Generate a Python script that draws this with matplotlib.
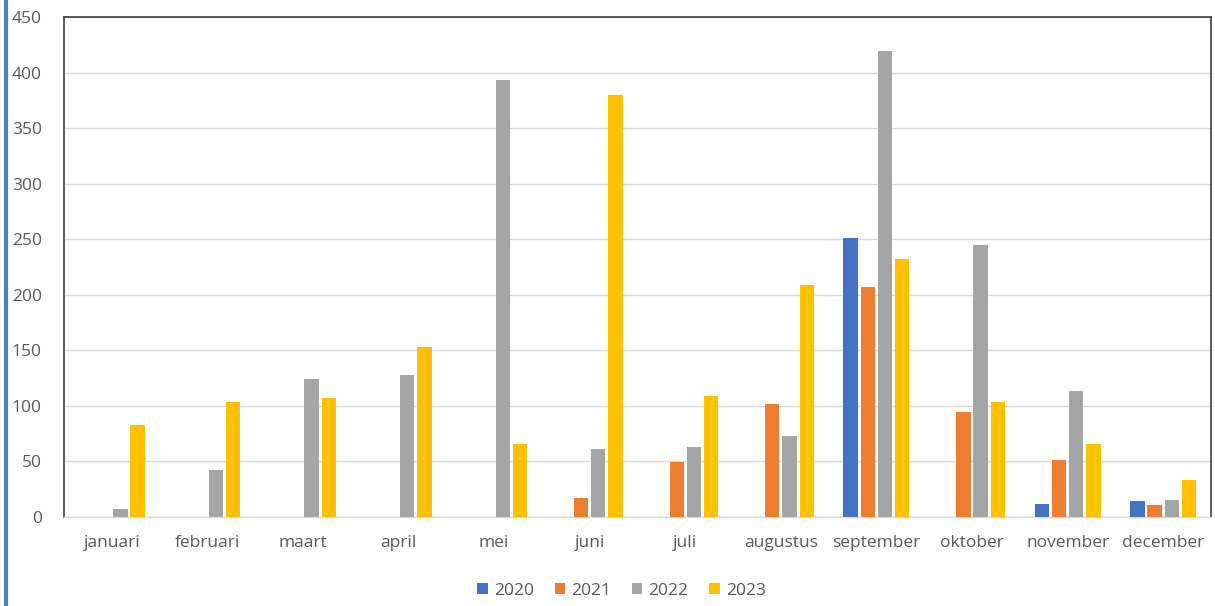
import matplotlib.pyplot as plt
import numpy as np
from matplotlib.lines import Line2D

months = ['januari', 'februari', 'maart', 'april', 'mei', 'juni', 'juli',
          'augustus', 'september', 'oktober', 'november', 'december']
years = ['2020', '2021', '2022', '2023']
v2020 = [0, 0, 0, 0, 0, 0, 0, 0, 251, 0, 12, 14]
v2021 = [0, 0, 0, 0, 0, 17, 49, 102, 207, 94, 51, 11]
v2022 = [7, 42, 124, 128, 393, 61, 63, 73, 419, 245, 113, 15]
v2023 = [83, 103, 107, 153, 66, 380, 109, 209, 232, 103, 66, 33]
colors = ['#4472c4', '#ed7d31', '#a5a5a5', '#ffc000']

plt.rcParams['font.family'] = ['Open Sans', 'DejaVu Sans']
text_color = '#595959'

fig = plt.figure(figsize=(12.15, 6.06), dpi=100)
ax = fig.add_axes([0.0527, 0.147, 0.944, 0.825])

x = np.arange(len(months))
step = 0.18
width = 0.15
for i, (vals, col, yr) in enumerate(zip([v2020, v2021, v2022, v2023], colors, years)):
    ax.bar(x + (i - 1.5) * step, vals, width, color=col, label=yr, zorder=3)

ax.set_xlim(-0.5, len(months) - 0.5)
ax.set_ylim(0, 450)
ax.set_yticks(np.arange(0, 451, 50))
ax.set_xticks(x)
ax.set_xticklabels(months)
ax.tick_params(axis='both', length=0, labelsize=12.5, colors=text_color)
ax.tick_params(axis='x', pad=13)
ax.tick_params(axis='y', pad=16)
ax.grid(axis='y', color='#d9d9d9', linewidth=1, zorder=0)

for side in ['top', 'left', 'right']:
    ax.spines[side].set_color('#404040')
    ax.spines[side].set_linewidth(1.2)
ax.spines['bottom'].set_color('#d9d9d9')
ax.spines['bottom'].set_linewidth(1)

leg = ax.legend(loc='upper center', bbox_to_anchor=(0.486, -0.1), ncol=4,
                frameon=False, fontsize=12.5, handlelength=0.6, handleheight=0.6,
                handletextpad=0.35, columnspacing=1.2)
for t in leg.get_texts():
    t.set_color(text_color)

fig.add_artist(Line2D([6 / 1215, 6 / 1215], [0, 1], color='#4a7ebb',
                      linewidth=3, transform=fig.transFigure))

fig.savefig('out.png', dpi=100)
